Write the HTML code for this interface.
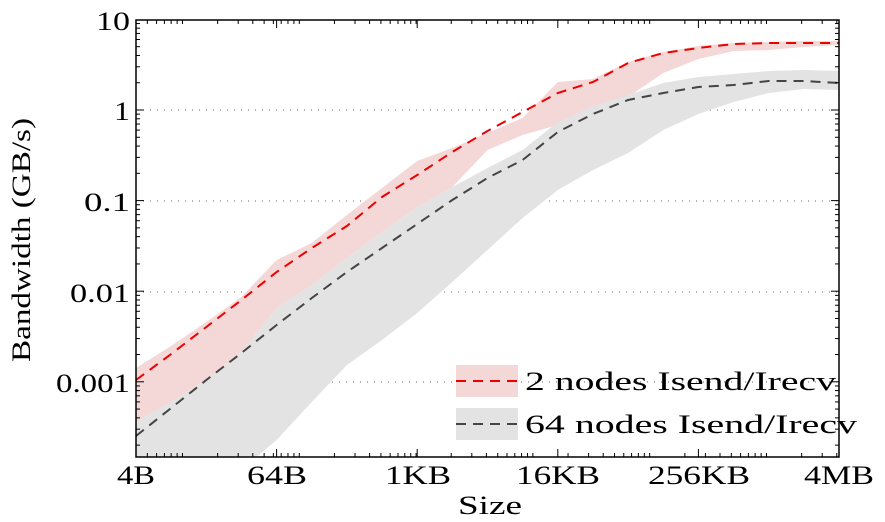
<!DOCTYPE html>
<html><head><meta charset="utf-8"><style>
html,body{margin:0;padding:0;background:#fff}
svg{display:block;font-family:"Liberation Serif",serif}
</style></head><body>
<svg id="s" width="885" height="522" viewBox="0 0 885 522" xmlns="http://www.w3.org/2000/svg">
<g id="grid"></g>
<g id="bands"></g>
<g id="lines"></g>
<g id="axes"></g>
<g font-size="26" fill="#000" lengthAdjust="spacingAndGlyphs">
<text x="130" y="30" text-anchor="end" textLength="34" lengthAdjust="spacingAndGlyphs">10</text>
<text x="130" y="120" text-anchor="end" textLength="16" lengthAdjust="spacingAndGlyphs">1</text>
<text x="130" y="211" text-anchor="end" textLength="46" lengthAdjust="spacingAndGlyphs">0.1</text>
<text x="130" y="302" text-anchor="end" textLength="60" lengthAdjust="spacingAndGlyphs">0.01</text>
<text x="130" y="392" text-anchor="end" textLength="74" lengthAdjust="spacingAndGlyphs">0.001</text>
<text x="136" y="484" text-anchor="middle" textLength="38" lengthAdjust="spacingAndGlyphs">4B</text>
<text x="277" y="484" text-anchor="middle" textLength="60" lengthAdjust="spacingAndGlyphs">64B</text>
<text x="418" y="484" text-anchor="middle" textLength="66" lengthAdjust="spacingAndGlyphs">1KB</text>
<text x="558" y="484" text-anchor="middle" textLength="84" lengthAdjust="spacingAndGlyphs">16KB</text>
<text x="699" y="484" text-anchor="middle" textLength="102" lengthAdjust="spacingAndGlyphs">256KB</text>
<text x="839" y="484" text-anchor="middle" textLength="70" lengthAdjust="spacingAndGlyphs">4MB</text>
<text x="490" y="514" text-anchor="middle" textLength="64" lengthAdjust="spacingAndGlyphs">Size</text>
<text transform="translate(30,240) rotate(-90)" text-anchor="middle" textLength="244" lengthAdjust="spacingAndGlyphs">Bandwidth (GB/s)</text>
</g>
<rect x="456" y="365" width="62" height="32" fill="#f4d7d7"/>
<line x1="456" y1="381" x2="518" y2="381" stroke="#e00" stroke-width="2" stroke-dasharray="10,7"/>
<rect x="456" y="408" width="62" height="32" fill="#e3e3e3"/>
<line x1="456" y1="424" x2="518" y2="424" stroke="#444" stroke-width="2" stroke-dasharray="10,7"/>
<text x="525" y="390" font-size="26" textLength="311" lengthAdjust="spacingAndGlyphs">2 nodes Isend/Irecv</text>
<text x="525" y="433" font-size="26" textLength="332" lengthAdjust="spacingAndGlyphs">64 nodes Isend/Irecv</text>
</svg>
<script>
const NS="http://www.w3.org/2000/svg";
function el(p,t,a){const e=document.createElementNS(NS,t);for(const k in a)e.setAttribute(k,a[k]);document.getElementById(p).appendChild(e);return e;}
const L=136,R=839,T=20,B=457;
const xs=[];for(let i=0;i<21;i++)xs.push(L+35.15*i);
function pts(a){return a.map((y,i)=>xs[i].toFixed(1)+","+y).join(" ");}
const redL=[380,354,327,300,272,248,226,197,175,152,131,112,93,82,63,53,48,44,43,43,43];
const redU=[368,346,322,297,260,243,215,188,161,148,133,118,82,79,62,52,46,43,42,41,41];
const redLo=[422,402,380,352,308,285,258,232,207,187,150,135,125,112,97,73,59,51,50,47,45];
const grU=[422,402,380,352,308,285,258,232,207,187,168,150,122,106,95,83,77,74,71,70,71];
const grLo=[470,470,470,470,440,402,365,340,313,282,250,218,190,170,153,130,114,102,93,89,90];
const grL=[436,408,380,353,325,298,272,248,224,200,178,160,132,114,100,93,87,85,81,81,83];
[110,201,292,382].forEach(y=>el("grid","line",{x1:L,x2:R,y1:y,y2:y,stroke:"#666","stroke-width":1,"stroke-dasharray":"1,6"}));
const cp=el("bands","clipPath",{id:"c"});const cr=document.createElementNS(NS,"rect");
cr.setAttribute("x",L);cr.setAttribute("y",T);cr.setAttribute("width",R-L);cr.setAttribute("height",B-T);cp.appendChild(cr);
el("bands","polygon",{points:pts(redU)+" "+pts(redLo).split(" ").reverse().join(" "),fill:"#f4d7d7","clip-path":"url(#c)"});
el("bands","polygon",{points:pts(grU)+" "+pts(grLo).split(" ").reverse().join(" "),fill:"#e3e3e3","clip-path":"url(#c)"});
el("lines","polyline",{points:pts(redL),fill:"none",stroke:"#e00","stroke-width":2,"stroke-dasharray":"10,7"});
el("lines","polyline",{points:pts(grL),fill:"none",stroke:"#444","stroke-width":2,"stroke-dasharray":"10,7","clip-path":"url(#c)"});
el("axes","rect",{x:L,y:T,width:R-L,height:B-T,fill:"none",stroke:"#000","stroke-width":1.5});
const pd=116.8;
function xb(b){return L+pd*Math.log10(b/4);}
for(let e=0;e<8;e++)for(let m=1;m<10;m++){const b=m*Math.pow(10,e);const x=xb(b);if(x<L+1||x>R-1)continue;
 el("axes","line",{x1:x,x2:x,y1:B,y2:B-4,stroke:"#000"});el("axes","line",{x1:x,x2:x,y1:T,y2:T+4,stroke:"#000"});}
xs.forEach((x,i)=>{if(i%4==0){el("axes","line",{x1:x,x2:x,y1:B,y2:B-8,stroke:"#000"});el("axes","line",{x1:x,x2:x,y1:T,y2:T+8,stroke:"#000"});}});
for(let d=-4;d<=1;d++)for(let m=1;m<10;m++){const y=110-90.6*(d+Math.log10(m));if(y<T-0.5||y>B)continue;const len=m==1?8:4;
 el("axes","line",{x1:L,x2:L+len,y1:y,y2:y,stroke:"#000"});el("axes","line",{x1:R,x2:R-len,y1:y,y2:y,stroke:"#000"});}
</script>
</body></html>
